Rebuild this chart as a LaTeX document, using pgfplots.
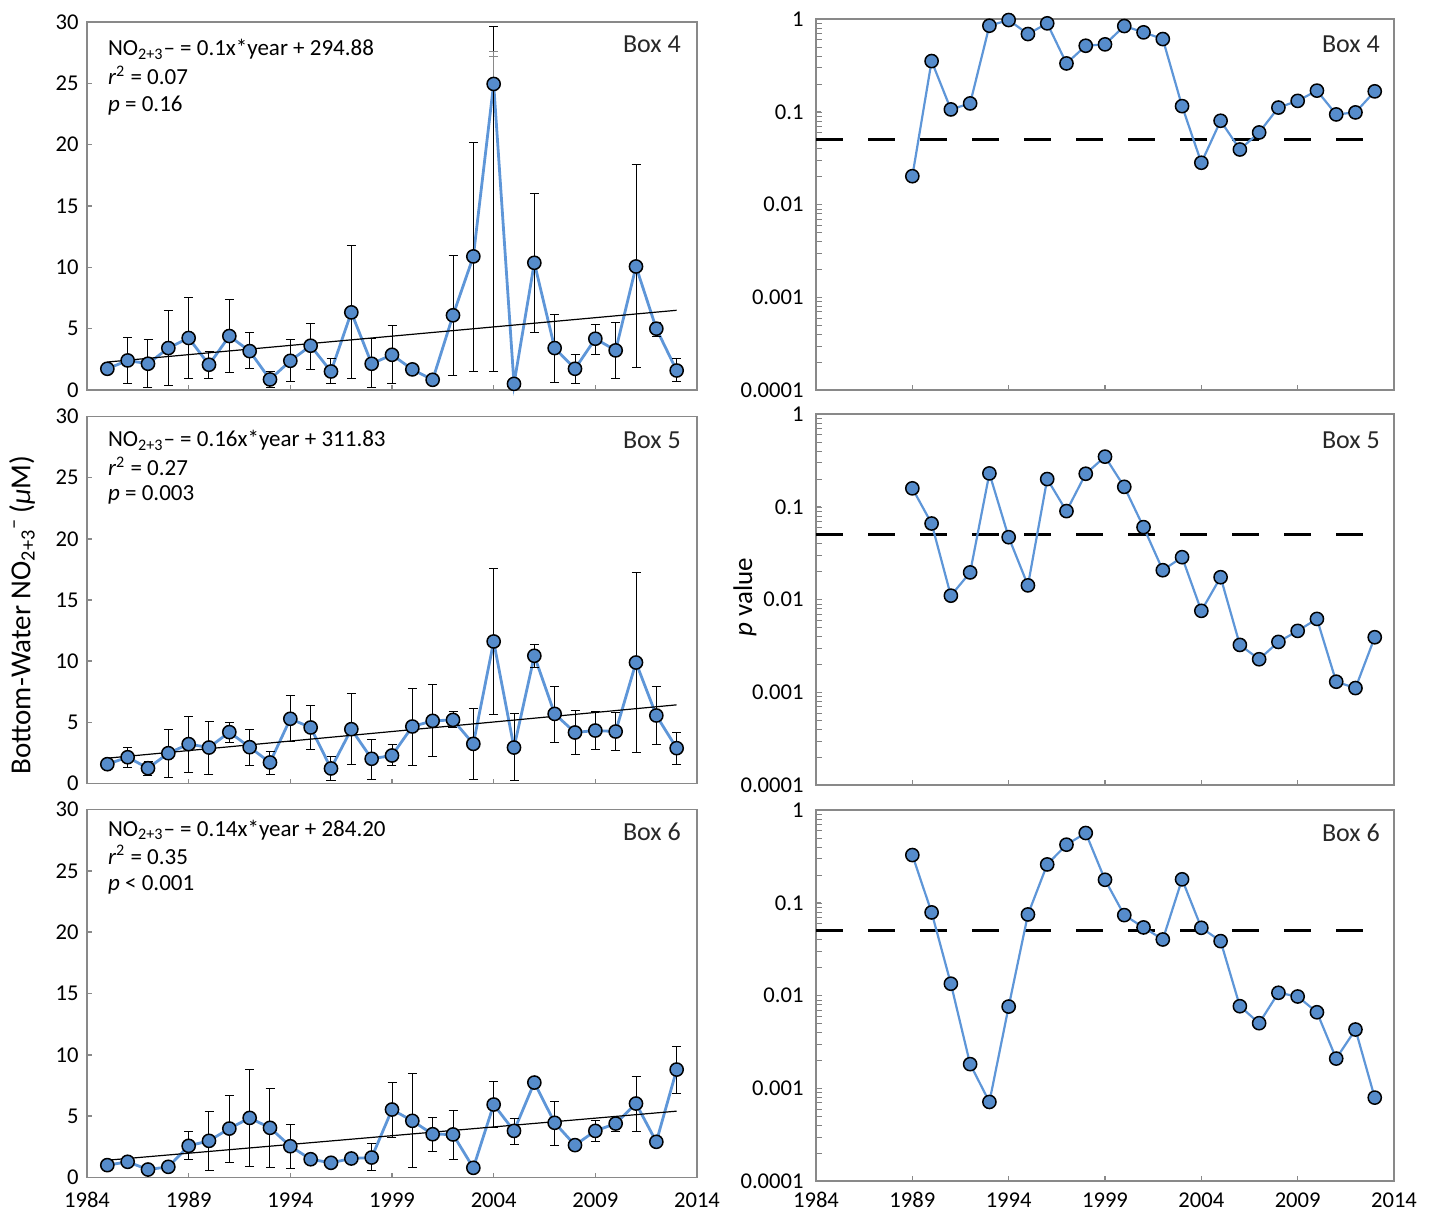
\documentclass[border=0pt]{standalone}
\usepackage{fontspec}
\setmainfont{Carlito}
\usepackage{pgfplots}
\usepackage{pgfplotstable}
\pgfplotsset{compat=1.18}
\definecolor{axgray}{RGB}{137,137,137}
\definecolor{mfill}{HTML}{568CCB}
\definecolor{lblue}{HTML}{5E96D8}
\definecolor{boxtxt}{RGB}{40,40,40}

\pgfplotstableread{
yr v ep em
1985 1.73 0 0
1986 2.41 1.91 1.91
1987 2.14 1.96 1.91
1988 3.42 3.08 3.05
1989 4.24 3.29 3.33
1990 2.06 1.09 1.09
1991 4.40 2.97 3.00
1992 3.17 1.48 1.44
1993 0.86 0.65 0.63
1994 2.38 1.72 1.66
1995 3.61 1.85 1.96
1996 1.51 1.04 1.01
1997 6.33 5.43 5.42
1998 2.14 2.04 1.96
1999 2.87 2.35 2.31
2000 1.68 0 0
2001 0.83 0 0
2002 6.09 4.91 4.90
2003 10.89 9.31 9.38
2004 24.95 4.65 23.44
2005 0.50 0 0
2006 10.37 5.67 5.70
2007 3.42 2.72 2.78
2008 1.73 1.17 1.17
2009 4.18 1.20 1.25
2010 3.23 2.26 2.26
2011 10.07 8.28 8.26
2012 5.00 0.54 0.60
2013 1.59 0.96 0.87
}\boxfourL

\pgfplotstableread{
yr v ep em
1985 1.58 0 0
1986 2.15 0.82 0.81
1987 1.25 0.55 0.62
1988 2.48 1.96 1.96
1989 3.22 2.26 2.29
1990 2.94 2.13 2.18
1991 4.20 0.79 0.82
1992 2.97 1.47 1.50
1993 1.72 0.90 0.96
1994 5.29 1.88 1.86
1995 4.58 1.77 1.77
1996 1.23 0.98 0.98
1997 4.44 2.89 2.86
1998 2.02 1.60 1.67
1999 2.29 0.87 0.85
2000 4.66 3.13 3.22
2001 5.12 3.00 2.91
2002 5.20 0.69 0.62
2003 3.24 2.89 2.94
2004 11.61 5.94 5.94
2005 2.94 2.75 2.72
2006 10.44 0.89 0.96
2007 5.69 2.24 2.31
2008 4.17 1.77 1.77
2009 4.33 1.56 1.58
2010 4.25 1.55 1.58
2011 9.89 7.36 7.33
2012 5.56 2.37 2.40
2013 2.89 1.28 1.31
}\boxfiveL

\pgfplotstableread{
yr v ep em
1985 1.01 0 0
1986 1.28 0 0
1987 0.65 0 0
1988 0.87 0 0
1989 2.58 1.20 1.11
1990 2.99 2.36 2.45
1991 3.99 2.67 2.77
1992 4.86 3.94 3.94
1993 4.05 3.21 3.26
1994 2.55 1.77 1.82
1995 1.49 0 0
1996 1.20 0.35 0.35
1997 1.55 0 0
1998 1.63 1.14 1.03
1999 5.54 2.23 2.28
2000 4.62 3.86 3.83
2001 3.53 1.33 1.38
2002 3.51 1.92 2.02
2003 0.79 0 0
2004 5.95 1.85 1.90
2005 3.80 1.01 1.08
2006 7.74 0 0
2007 4.46 1.71 1.88
2008 2.64 0 0
2009 3.80 0.82 0.89
2010 4.40 0.41 0.68
2011 6.03 2.23 2.25
2012 2.91 0 0
2013 8.80 1.91 1.95
}\boxsixL

\pgfplotstableread{
yr p
1989 0.0202
1990 0.352
1991 0.106
1992 0.123
1993 0.847
1994 0.975
1995 0.689
1996 0.898
1997 0.332
1998 0.515
1999 0.533
2000 0.84
2001 0.718
2002 0.608
2003 0.115
2004 0.0282
2005 0.080
2006 0.0392
2007 0.0598
2008 0.111
2009 0.131
2010 0.169
2011 0.0936
2012 0.0984
2013 0.166
}\boxfourR

\pgfplotstableread{
yr p
1989 0.158
1990 0.066
1991 0.011
1992 0.0196
1993 0.229
1994 0.047
1995 0.0142
1996 0.199
1997 0.0898
1998 0.227
1999 0.347
2000 0.164
2001 0.0603
2002 0.0207
2003 0.0286
2004 0.00755
2005 0.0174
2006 0.00324
2007 0.00227
2008 0.00349
2009 0.00459
2010 0.00618
2011 0.0013
2012 0.00111
2013 0.00392
}\boxfiveR

\pgfplotstableread{
yr p
1989 0.327
1990 0.0787
1991 0.0134
1992 0.00182
1993 0.000712
1994 0.0076
1995 0.0748
1996 0.259
1997 0.423
1998 0.565
1999 0.177
2000 0.0736
2001 0.0542
2002 0.0402
2003 0.179
2004 0.0537
2005 0.0386
2006 0.00767
2007 0.00503
2008 0.0107
2009 0.00976
2010 0.0066
2011 0.00209
2012 0.0043
2013 0.000793
}\boxsixR

\tikzset{
  annot/.style={anchor=base west, inner sep=0pt, font=\fontsize{11.5}{13}\selectfont},
  boxlab/.style={anchor=base east, inner sep=0pt, font=\fontsize{13}{15}\selectfont, text=boxtxt},
}

\pgfplotsset{
  panelbase/.style={
    scale only axis, clip=false,
    xmin=1984, xmax=2014,
    xtick={1984,1989,...,2014},
    tick align=inside, tick pos=left,
    axis line style={draw=axgray, line width=0.75pt},
    major tick style={draw=axgray, line width=0.75pt},
    major tick length=2.5pt,
    tick label style={font=\fontsize{11.3}{13}\selectfont, text=black,
      /pgf/number format/1000 sep={},
      /pgf/number format/assume math mode=true},
  },
  leftpanel/.style={
    panelbase, width=305pt, height=184pt,
    ymin=0, ymax=30, ytick={0,5,...,30},
    yticklabel style={xshift=-0.7pt},
    xticklabel style={yshift=-3.9pt},
  },
  rightpanel/.style={
    panelbase, width=289pt, height=185.5pt,
    ymin=0.0001, ymax=1,
    ytick={0.0001,0.001,0.01,0.1,1},
    yticklabels={0.0001,0.001,0.01,0.1,1},
    yticklabel style={xshift=-2.7pt},
    xticklabel style={yshift=-2.2pt},
  },
  bluel/.style={lblue, line width=1.4pt, no marks,
    error bars/.cd, y dir=both, y explicit,
    error bar style={black, line width=0.5pt},
    error mark options={rotate=90, black, line width=0.5pt, mark size=2.25pt}},
  bmark/.style={only marks, mark=*, mark size=3.3pt,
    mark options={fill=mfill, draw=black, line width=0.75pt}},
  bluer/.style={lblue, line width=1.1pt, no marks},
  thresh/.style={black, line width=1.5pt, dash pattern=on 13.5pt off 12.5pt},
}

\begin{document}
\begin{tikzpicture}
\path (0,0) rectangle (715pt,-608pt);

% ---------- left column ----------
\begin{axis}[leftpanel, at={(43.5pt,-195pt)}, anchor=south west, xticklabels={}]
\addplot[bluel] table[x=yr, y=v, y error plus=ep, y error minus=em] {\boxfourL};
\addplot[draw=none, no marks, error bars/.cd, y dir=plus, y explicit,
  error bar style={axgray, line width=0.5pt},
  error mark options={rotate=90, axgray, line width=0.5pt, mark size=2.25pt}]
  coordinates {(2004,24.95) +- (0,2.25) (2004,24.95) +- (0,2.65)};
\addplot[black, line width=0.6pt] coordinates {(1985,2.28) (2013,6.50)};
\addplot[bmark] table[x=yr, y=v] {\boxfourL};
\node[annot] at (rel axis cs:0.034,0.908) {NO\textsubscript{2+3}– = 0.1x*year + 294.88};
\node[annot] at (rel axis cs:0.034,0.829) {\textit{r}\textsuperscript{2} = 0.07};
\node[annot] at (rel axis cs:0.034,0.758) {\textit{p} = 0.16};
\node[boxlab] at (rel axis cs:0.974,0.918) {Box 4};
\end{axis}

\begin{axis}[leftpanel, at={(43.5pt,-391.75pt)}, anchor=south west, height=183.5pt, xticklabels={}]
\addplot[bluel] table[x=yr, y=v, y error plus=ep, y error minus=em] {\boxfiveL};
\addplot[black, line width=0.6pt] coordinates {(1985,2.07) (2013,6.43)};
\addplot[bmark] table[x=yr, y=v] {\boxfiveL};
\node[annot] at (rel axis cs:0.034,0.917) {NO\textsubscript{2+3}– = 0.16x*year + 311.83};
\node[annot] at (rel axis cs:0.034,0.838) {\textit{r}\textsuperscript{2} = 0.27};
\node[annot] at (rel axis cs:0.034,0.770) {\textit{p} = 0.003};
\node[boxlab] at (rel axis cs:0.974,0.912) {Box 5};
\end{axis}

\begin{axis}[leftpanel, at={(43.5pt,-588.75pt)}, anchor=south west]
\addplot[bluel] table[x=yr, y=v, y error plus=ep, y error minus=em] {\boxsixL};
\addplot[black, line width=0.6pt] coordinates {(1985,1.41) (2013,5.41)};
\addplot[bmark] table[x=yr, y=v] {\boxsixL};
\node[annot] at (rel axis cs:0.034,0.927) {NO\textsubscript{2+3}– = 0.14x*year + 284.20};
\node[annot] at (rel axis cs:0.034,0.851) {\textit{r}\textsuperscript{2} = 0.35};
\node[annot] at (rel axis cs:0.034,0.780) {\textit{p} < 0.001};
\node[boxlab] at (rel axis cs:0.974,0.916) {Box 6};
\end{axis}

% ---------- right column ----------
\begin{axis}[ymode=log, rightpanel, at={(408pt,-195pt)}, anchor=south west, xticklabels={}]
\addplot[thresh] coordinates {(1984,0.05) (2013.3,0.05)};
\addplot[bluer] table[x=yr, y=p] {\boxfourR};
\addplot[bmark] table[x=yr, y=p] {\boxfourR};
\node[boxlab] at (rel axis cs:0.976,0.911) {Box 4};
\end{axis}

\begin{axis}[ymode=log, rightpanel, at={(408pt,-392.5pt)}, anchor=south west, xticklabels={}]
\addplot[thresh] coordinates {(1984,0.05) (2013.3,0.05)};
\addplot[bluer] table[x=yr, y=p] {\boxfiveR};
\addplot[bmark] table[x=yr, y=p] {\boxfiveR};
\node[boxlab] at (rel axis cs:0.976,0.908) {Box 5};
\end{axis}

\begin{axis}[ymode=log, rightpanel, at={(408pt,-590.5pt)}, anchor=south west]
\addplot[thresh] coordinates {(1984,0.05) (2013.3,0.05)};
\addplot[bluer] table[x=yr, y=p] {\boxsixR};
\addplot[bmark] table[x=yr, y=p] {\boxsixR};
\node[boxlab] at (rel axis cs:0.976,0.916) {Box 6};
\end{axis}

% ---------- axis titles ----------
\node[rotate=90, font=\fontsize{14.5}{16}\selectfont] at (11pt,-307.5pt)
  {Bottom-Water NO\textsubscript{2+3}\textsuperscript{–}\,(\textit{μ}M)};
\node[rotate=90, font=\fontsize{13.5}{15}\selectfont] at (372.5pt,-298.5pt)
  {\textit{p} value};
\end{tikzpicture}
\end{document}
